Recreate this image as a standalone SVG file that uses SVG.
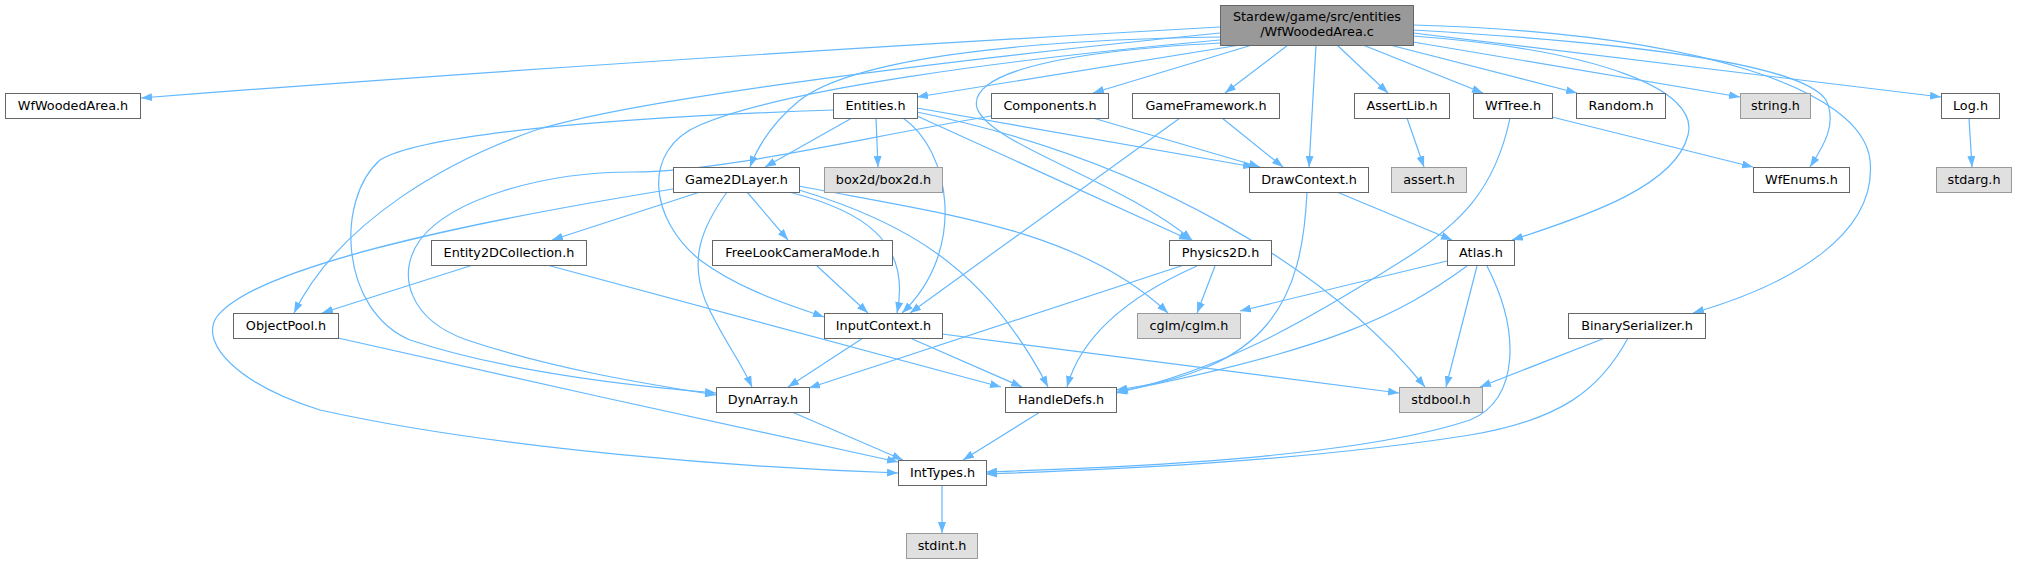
<svg xmlns="http://www.w3.org/2000/svg" width="2017" height="564" viewBox="0 0 2017 564">
<defs>
<marker id="ah" markerUnits="userSpaceOnUse" markerWidth="11" markerHeight="8" viewBox="0 0 11 8" refX="11" refY="4" orient="auto">
<path d="M0,0 L11,4 L0,8 z" fill="#63b8ff"/>
</marker>
</defs>
<style>
.n rect{fill:#ffffff;stroke:#666666;stroke-width:1}
.s rect{fill:#e0e0e0;stroke:#999999;stroke-width:1}
.m rect{fill:#999999;stroke:#666666;stroke-width:1}
text{font-family:"DejaVu Sans","Liberation Sans",sans-serif;font-size:12.8px;fill:#000000;text-anchor:middle}
#edges path{fill:none;stroke:#63b8ff;stroke-width:1.2;marker-end:url(#ah)}
</style>
<rect width="2017" height="564" fill="#ffffff"/>
<g id="edges">
<path d="M1220,27 C900,45 500,70 141,98"/>
<path d="M1240,45 L917,97"/>
<path d="M1252,45 L1093,93"/>
<path d="M1288,45 L1225,93"/>
<path d="M1316,45 L1309,167"/>
<path d="M1337,45 L1388,93"/>
<path d="M1363,45 L1483,93"/>
<path d="M1390,45 L1577,93"/>
<path d="M1413,42 L1740,97"/>
<path d="M1413,33 L1941,97"/>
<path d="M1413,30 C1620,42 1800,62 1826,100 C1838,125 1822,148 1810,167"/>
<path d="M1413,25 C1700,33 1862,90 1870,160 C1878,235 1790,285 1693,313"/>
<path d="M1413,36 C1600,50 1700,90 1688,135 C1676,185 1590,215 1512,240"/>
<path d="M1220,37 C1000,40 850,62 800,100 C778,118 760,140 750,167"/>
<path d="M1220,33 C1000,55 650,95 536,130 C450,160 340,220 294,313"/>
<path d="M1220,40 C1000,60 780,90 700,125 C640,150 650,220 700,260 C740,290 790,305 824,317"/>
<path d="M1220,43 C1050,52 968,75 977,108 C990,145 1120,180 1192,240"/>
<path d="M852,118 L765,167"/>
<path d="M876,118 L878,167"/>
<path d="M917,108 L1254,167"/>
<path d="M917,112 C1150,160 1330,270 1425,387"/>
<path d="M917,116 L1190,240"/>
<path d="M903,118 C950,150 968,250 902,313"/>
<path d="M833,110 C600,118 420,135 380,160 C335,200 340,310 410,340 C500,370 620,385 716,393"/>
<path d="M1093,118 L1260,167"/>
<path d="M991,116 C850,140 720,172 633,172 C540,172 450,200 420,240 C395,275 410,320 467,340 C550,368 640,383 716,395"/>
<path d="M1222,118 L1283,167"/>
<path d="M1180,118 L910,313"/>
<path d="M700,192 L552,240"/>
<path d="M747,192 L788,240"/>
<path d="M727,192 C700,230 690,260 705,300 C720,335 740,360 752,387"/>
<path d="M789,192 C860,210 912,240 897,313"/>
<path d="M799,190 C900,220 985,265 1048,387"/>
<path d="M799,186 C950,215 1080,230 1168,313"/>
<path d="M673,189 C450,225 250,270 216,318 C200,345 240,385 320,410 C500,450 750,468 898,473"/>
<path d="M473,265 L322,313"/>
<path d="M547,265 L1001,387"/>
<path d="M816,265 L868,313"/>
<path d="M338,338 C500,375 750,430 898,462"/>
<path d="M863,338 L788,387"/>
<path d="M910,338 L1022,387"/>
<path d="M942,334 L1399,393"/>
<path d="M1184,265 L809,388"/>
<path d="M1197,266 C1120,300 1080,340 1067,387"/>
<path d="M1215,266 L1197,313"/>
<path d="M1337,192 L1452,240"/>
<path d="M1307,192 C1302,300 1270,370 1116,390"/>
<path d="M1510,118 C1495,190 1460,225 1400,262 C1300,325 1220,370 1116,393"/>
<path d="M1552,117 L1753,167"/>
<path d="M1407,118 L1424,167"/>
<path d="M1447,261 L1240,311"/>
<path d="M1467,266 C1400,315 1330,350 1117,392"/>
<path d="M1477,266 L1446,387"/>
<path d="M1487,266 C1520,330 1520,400 1470,420 C1350,460 1100,468 986,472"/>
<path d="M1605,338 L1480,387"/>
<path d="M1628,338 C1600,390 1560,420 1470,435 C1300,462 1100,470 986,474"/>
<path d="M1969,118 L1972,167"/>
<path d="M792,412 L903,460"/>
<path d="M1040,412 L963,460"/>
<path d="M942,485 L942,533"/>
</g>
<g id="main" class="m"><rect x="1220.5" y="5.5" width="193" height="40"/><text x="1317" y="21">Stardew/game/src/entities</text><text x="1317" y="36">/WfWoodedArea.c</text></g>
<g id="WfWoodedArea_h" class="n"><rect x="5.5" y="93.5" width="135" height="25"/><text x="73" y="110">WfWoodedArea.h</text></g>
<g id="Entities_h" class="n"><rect x="833.5" y="93.5" width="84" height="25"/><text x="875.5" y="110">Entities.h</text></g>
<g id="Components_h" class="n"><rect x="991.5" y="93.5" width="117" height="25"/><text x="1050" y="110">Components.h</text></g>
<g id="GameFramework_h" class="n"><rect x="1132.5" y="93.5" width="147" height="25"/><text x="1206" y="110">GameFramework.h</text></g>
<g id="AssertLib_h" class="n"><rect x="1354.5" y="93.5" width="95" height="25"/><text x="1402" y="110">AssertLib.h</text></g>
<g id="WfTree_h" class="n"><rect x="1473.5" y="93.5" width="79" height="25"/><text x="1513" y="110">WfTree.h</text></g>
<g id="Random_h" class="n"><rect x="1576.5" y="93.5" width="89" height="25"/><text x="1621" y="110">Random.h</text></g>
<g id="string_h" class="s"><rect x="1740.5" y="93.5" width="70" height="25"/><text x="1775.5" y="110">string.h</text></g>
<g id="Log_h" class="n"><rect x="1941.5" y="93.5" width="58" height="25"/><text x="1970.5" y="110">Log.h</text></g>
<g id="Game2DLayer_h" class="n"><rect x="673.5" y="167.5" width="126" height="25"/><text x="736.5" y="184">Game2DLayer.h</text></g>
<g id="box2d_h" class="s"><rect x="824.5" y="167.5" width="118" height="25"/><text x="883.5" y="184">box2d/box2d.h</text></g>
<g id="DrawContext_h" class="n"><rect x="1249.5" y="167.5" width="119" height="25"/><text x="1309" y="184">DrawContext.h</text></g>
<g id="assert_h" class="s"><rect x="1391.5" y="167.5" width="75" height="25"/><text x="1429" y="184">assert.h</text></g>
<g id="WfEnums_h" class="n"><rect x="1753.5" y="167.5" width="96" height="25"/><text x="1801.5" y="184">WfEnums.h</text></g>
<g id="stdarg_h" class="s"><rect x="1936.5" y="167.5" width="75" height="25"/><text x="1974" y="184">stdarg.h</text></g>
<g id="Entity2DCollection_h" class="n"><rect x="431.5" y="240.5" width="155" height="25"/><text x="509" y="257">Entity2DCollection.h</text></g>
<g id="FreeLookCameraMode_h" class="n"><rect x="712.5" y="240.5" width="180" height="25"/><text x="802.5" y="257">FreeLookCameraMode.h</text></g>
<g id="Physics2D_h" class="n"><rect x="1169.5" y="240.5" width="102" height="25"/><text x="1220.5" y="257">Physics2D.h</text></g>
<g id="Atlas_h" class="n"><rect x="1447.5" y="240.5" width="67" height="25"/><text x="1481" y="257">Atlas.h</text></g>
<g id="ObjectPool_h" class="n"><rect x="233.5" y="313.5" width="105" height="25"/><text x="286" y="330">ObjectPool.h</text></g>
<g id="InputContext_h" class="n"><rect x="824.5" y="313.5" width="118" height="25"/><text x="883.5" y="330">InputContext.h</text></g>
<g id="cglm_h" class="s"><rect x="1137.5" y="313.5" width="103" height="25"/><text x="1189" y="330">cglm/cglm.h</text></g>
<g id="BinarySerializer_h" class="n"><rect x="1568.5" y="313.5" width="137" height="25"/><text x="1637" y="330">BinarySerializer.h</text></g>
<g id="DynArray_h" class="n"><rect x="716.5" y="387.5" width="93" height="25"/><text x="763" y="404">DynArray.h</text></g>
<g id="HandleDefs_h" class="n"><rect x="1005.5" y="387.5" width="111" height="25"/><text x="1061" y="404">HandleDefs.h</text></g>
<g id="stdbool_h" class="s"><rect x="1399.5" y="387.5" width="83" height="25"/><text x="1441" y="404">stdbool.h</text></g>
<g id="IntTypes_h" class="n"><rect x="898.5" y="460.5" width="88" height="25"/><text x="942.5" y="477">IntTypes.h</text></g>
<g id="stdint_h" class="s"><rect x="906.5" y="533.5" width="71" height="25"/><text x="942" y="550">stdint.h</text></g>
</svg>
